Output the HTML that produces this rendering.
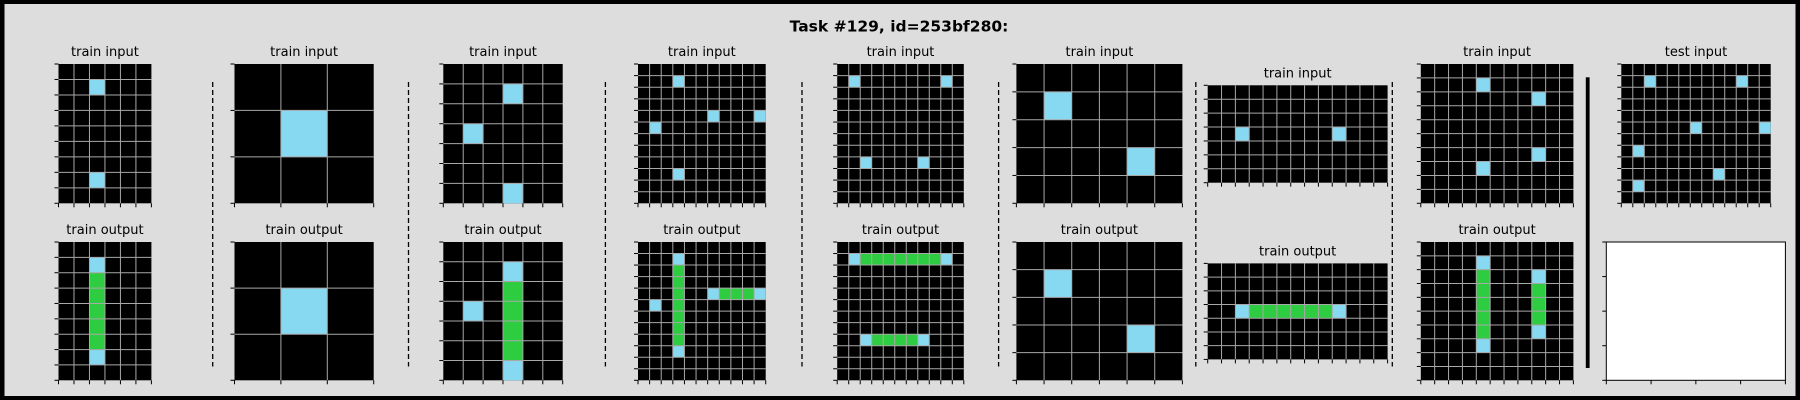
<!DOCTYPE html>
<html><head><meta charset="utf-8">
<style>
html,body{margin:0;padding:0;background:#000;overflow:hidden;}
#fig{position:absolute;left:0;top:0;width:1800px;height:400px;}
</style></head>
<body>
<svg id="fig" width="1800" height="400" viewBox="0 0 1800 400" xmlns="http://www.w3.org/2000/svg">
<rect x="0" y="0" width="1800" height="400" fill="#000"/>
<rect x="4.5" y="4" width="1791" height="392" fill="#dddddd"/>
<text x="899" y="31.5" text-anchor="middle" font-family="DejaVu Sans, Liberation Sans, sans-serif" font-weight="bold" font-size="15.5" fill="#000">Task #129, id=253bf280:</text>
<g id="panels"></g>
</svg>
<script>
// grid data: '0' black, '8' cyan, '3' green
const p1in=["000000","008000","000000","000000","000000","000000","000000","008000","000000"];
const p1out=["000000","008000","003000","003000","003000","003000","003000","008000","000000"];
const p2in=["000","080","000"];
const p2out=["000","080","000"];
const p3in=["000000","000800","000000","080000","000000","000000","000800"];
const p3out=["000000","000800","000300","080300","000300","000300","000800"];
const p4in=["00000000000","00080000000","00000000000","00000000000","00000080008","08000000000","00000000000","00000000000","00000000000","00080000000","00000000000","00000000000"];
const p4out=["00000000000","00080000000","00030000000","00030000000","00030083338","08030000000","00030000000","00030000000","00030000000","00080000000","00000000000","00000000000"];
const p5in=["00000000000","08000000080","00000000000","00000000000","00000000000","00000000000","00000000000","00000000000","00800008000","00000000000","00000000000","00000000000"];
const p5out=["00000000000","08333333380","00000000000","00000000000","00000000000","00000000000","00000000000","00000000000","00833338000","00000000000","00000000000","00000000000"];
const p6in=["000000","080000","000000","000080","000000"];
const p6out=["000000","080000","000000","000080","000000"];
const p7in=["0000000000000","0000000000000","0000000000000","0080000008000","0000000000000","0000000000000","0000000000000"];
const p7out=["0000000000000","0000000000000","0000000000000","0083333338000","0000000000000","0000000000000","0000000000000"];
const p8in=["00000000000","00008000000","00000000800","00000000000","00000000000","00000000000","00000000800","00008000000","00000000000","00000000000"];
const p8out=["00000000000","00008000000","00003000800","00003000300","00003000300","00003000300","00003000800","00008000000","00000000000","00000000000"];
const testIn=["0000000000000","0080000000800","0000000000000","0000000000000","0000000000000","0000008000008","0000000000000","0800000000000","0000000000000","0000000080000","0800000000000","0000000000000"];
const colorMap={"0":"#000000","8":"#87D8F1","3":"#2ECC40"};

const NS="http://www.w3.org/2000/svg";
const root=document.getElementById('panels');
function mk(tag,attrs){const e=document.createElementNS(NS,tag);for(const k in attrs)e.setAttribute(k,attrs[k]);root.appendChild(e);return e;}

function title(txt,cx,y,name){
  const t=mk('text',{x:cx,y:y,'text-anchor':'middle','font-family':'DejaVu Sans, Liberation Sans, sans-serif','font-size':'13',fill:'#000'});
  t.textContent=txt;
  
  
}
function grid(data,x0,x1,y0,y1,name){
  const rows=data.length, cols=data[0].length;
  const sx=c=>x0+(x1-x0)*c/cols, sy=r=>y0+(y1-y0)*r/rows;
  const bg=mk('rect',{x:x0,y:y0,width:x1-x0,height:y1-y0,fill:'#000'});
  
  
  for(let r=0;r<rows;r++)for(let c=0;c<cols;c++){
    const v=data[r][c]; if(v==='0')continue;
    const cell=mk('rect',{x:sx(c),y:sy(r),width:sx(c+1)-sx(c),height:sy(r+1)-sy(r),fill:colorMap[v]});
    
    
  }
  for(let c=1;c<cols;c++){const l=mk('line',{x1:sx(c),x2:sx(c),y1:y0,y2:y1,stroke:'#a8a8a8','stroke-width':1});}
  for(let r=1;r<rows;r++){const l=mk('line',{x1:x0,x2:x1,y1:sy(r),y2:sy(r),stroke:'#a8a8a8','stroke-width':1});}
  ticks(x0,x1,y0,y1,cols,rows,name);
}
function ticks(x0,x1,y0,y1,nx,ny,name){
  for(let c=0;c<=nx;c++){const x=x0+(x1-x0)*c/nx;const t=mk('line',{x1:x,x2:x,y1:y1,y2:y1+4,stroke:'#000','stroke-width':1});}
  for(let r=0;r<=ny;r++){const y=y0+(y1-y0)*r/ny;const t=mk('line',{x1:x0-4,x2:x0,y1:y,y2:y,stroke:'#000','stroke-width':1});}
}
function dashed(x,y0,y1){const l=mk('line',{x1:x,x2:x,y1:y0,y2:y1,stroke:'#000','stroke-width':1.3,'stroke-dasharray':'5,3'});}

const IN=[64,203.3], OUT=[242,380.3];
const pairs=[
 {i:p1in,o:p1out,x:[58.5,151.4]},
 {i:p2in,o:p2out,x:[234.5,373.7]},
 {i:p3in,o:p3out,x:[443.3,562.7]},
 {i:p4in,o:p4out,x:[638,765.7]},
 {i:p5in,o:p5out,x:[837.2,963.8]},
 {i:p6in,o:p6out,x:[1016.4,1182.4]},
 {i:p7in,o:p7out,x:[1207.7,1387.6],yi:[85.3,182.7],yo:[263.4,359.4]},
 {i:p8in,o:p8out,x:[1420.8,1573.4]}
];
pairs.forEach((p,k)=>{
  const yi=p.yi||IN, yo=p.yo||OUT, cx=(p.x[0]+p.x[1])/2;
  title('train input',cx,yi[0]-8,'train-input-title-'+(k+1));
  grid(p.i,p.x[0],p.x[1],yi[0],yi[1],'train-input-'+(k+1));
  title('train output',cx,yo[0]-8,'train-output-title-'+(k+1));
  grid(p.o,p.x[0],p.x[1],yo[0],yo[1],'train-output-'+(k+1));
});
[212.7,408.5,605.4,802,998.6,1195.8,1392.3].forEach(x=>dashed(x,82,366.5));
const bar=mk('rect',{x:1585.8,y:77.3,width:3.8,height:290.7,fill:'#000'});


title('test input',1696,IN[0]-8,'test-input-title');
grid(testIn,1621.3,1770.7,IN[0],IN[1],'test-input');
const blank=mk('rect',{x:1606.3,y:242,width:179.1,height:138.3,fill:'#fff',stroke:'#000','stroke-width':1});


ticks(1606.3,1785.4,242,380.3,4,4,'test-output');
</script>
</body></html>
